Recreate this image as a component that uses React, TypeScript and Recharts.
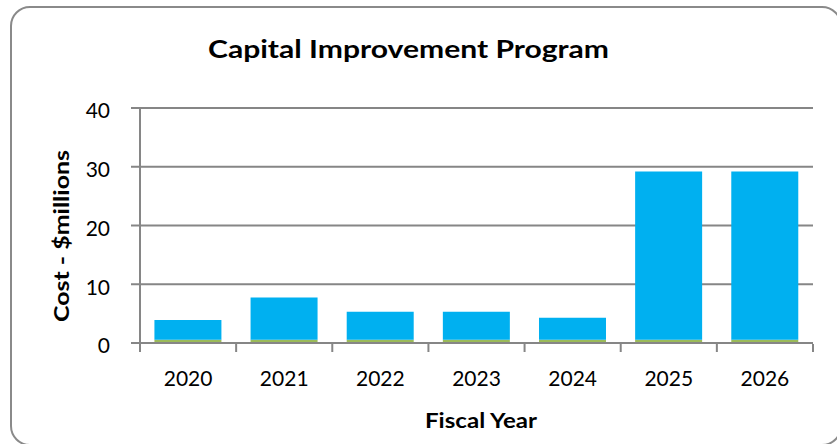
import React from "react";
import { BarChart, Bar, XAxis, YAxis, CartesianGrid } from "recharts";

const years = ["2020", "2021", "2022", "2023", "2024", "2025", "2026"];
const costValues = [3.35, 7.2, 4.75, 4.75, 3.75, 28.65, 28.65];
const baseValues = [0.55, 0.55, 0.55, 0.55, 0.55, 0.55, 0.55];
const yTicks = [0, 10, 20, 30, 40];
const edgeTicks = [0, 1, 2, 3, 4, 5, 6, 7];

const data = years.map((y, i) => ({ year: y, base: baseValues[i], cost: costValues[i], edge: i }));

const FONT = "Lato, 'Open Sans', sans-serif";
const GRID = "#868686";

const EmptyTick = () => <g />;

export default function App() {
  return (
    <div style={{ position: "fixed", left: 0, top: 0, width: 837, height: 444, overflow: "hidden", background: "#fff" }}>
      <div
        style={{
          position: "absolute",
          left: 10,
          top: 6,
          width: 832,
          height: 440,
          border: "2px solid #8a8a8a",
          borderRadius: 20,
          boxSizing: "border-box",
        }}
      />
      <div style={{ position: "absolute", left: 0, top: 0 }}>
        <BarChart
          width={837}
          height={444}
          data={data}
          margin={{ top: 108, right: 24, left: 0, bottom: 0 }}
          barCategoryGap="15%"
        >
          <CartesianGrid vertical={false} stroke={GRID} strokeWidth={2} />
          <XAxis
            xAxisId="cat"
            dataKey="year"
            type="category"
            axisLine={{ stroke: GRID, strokeWidth: 2 }}
            tickLine={false}
            tickSize={0}
            tickMargin={28}
            height={1}
            tick={{ fontSize: 21, fill: "#000", fontFamily: FONT }}
          />
          <XAxis
            xAxisId="edges"
            dataKey="edge"
            type="number"
            domain={[0, 7]}
            allowDataOverflow
            ticks={edgeTicks}
            interval={0}
            axisLine={false}
            tick={EmptyTick}
            tickLine={{ stroke: GRID, strokeWidth: 2 }}
            tickSize={8}
            height={100}
          />
          <YAxis
            domain={[0, 40]}
            ticks={yTicks}
            width={140}
            axisLine={{ stroke: GRID, strokeWidth: 2 }}
            tickLine={{ stroke: GRID, strokeWidth: 2 }}
            tickSize={9}
            tickMargin={21}
            tick={{ fontSize: 21, fill: "#000", fontFamily: FONT, dy: 3 }}
          />
          <Bar xAxisId="cat" dataKey="base" stackId="a" fill="#9BBB59" isAnimationActive={false} />
          <Bar xAxisId="cat" dataKey="cost" stackId="a" fill="#00B0F0" isAnimationActive={false} />
        </BarChart>
      </div>
      <svg
        width={837}
        height={444}
        style={{ position: "absolute", left: 0, top: 0, pointerEvents: "none" }}
      >
        <text
          x={408.5}
          y={58}
          textAnchor="middle"
          fontFamily={FONT}
          fontWeight="bold"
          fontSize={25}
          textLength={401}
          lengthAdjust="spacingAndGlyphs"
          fill="#000"
        >
          Capital Improvement Program
        </text>
        <text
          transform="translate(69,236) rotate(-90)"
          textAnchor="middle"
          fontFamily={FONT}
          fontWeight="bold"
          fontSize={21}
          textLength={172}
          lengthAdjust="spacingAndGlyphs"
          fill="#000"
        >
          Cost - $millions
        </text>
        <text
          x={481}
          y={428}
          textAnchor="middle"
          fontFamily={FONT}
          fontWeight="bold"
          fontSize={20}
          textLength={112}
          lengthAdjust="spacingAndGlyphs"
          fill="#000"
        >
          Fiscal Year
        </text>
      </svg>
    </div>
  );
}
